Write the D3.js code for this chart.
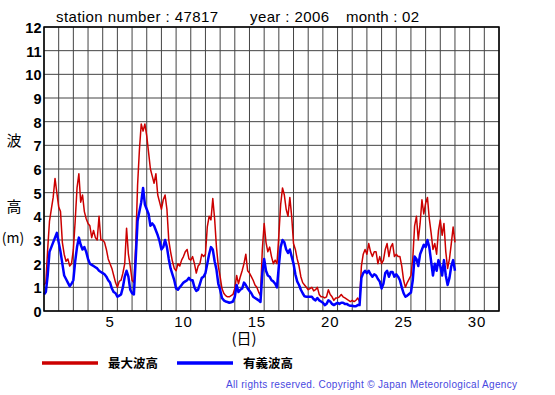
<!DOCTYPE html>
<html>
<head>
<meta charset="utf-8">
<script src="https://cdn.jsdelivr.net/npm/d3@7"></script>
<style>
  body { margin: 0; background: #fff; }
  text { font-family: Arial, "Liberation Sans", sans-serif; }
  .jp { font-family: "Noto Sans CJK JP", sans-serif; }
</style>
</head>
<body>
<script>
// 3-hourly values, 8 per day (day 1 00h .. day 28 21h) + last point
let hmax = [
  1.1, 1.2, 2.6, 3.8, 4.3, 4.8, 5.6, 5.0,
  4.4, 4.2, 2.9, 2.4, 2.1, 2.2, 1.9, 2.0,
  2.6, 3.8, 5.2, 5.8, 4.6, 4.9, 4.2, 3.9,
  3.7, 3.6, 3.1, 3.4, 3.1, 3.0, 4.0, 3.0,
  3.0, 2.9, 2.6, 2.2, 2.0, 1.8, 1.5, 1.2,
  1.0, 1.25, 1.3, 1.6, 2.0, 3.5, 2.4, 1.9,
  1.3, 1.2, 2.8, 5.3, 6.8, 7.9, 7.6, 7.9,
  7.4, 6.7, 6.0, 5.7, 5.4, 5.8, 4.9, 4.6,
  4.3, 4.7, 4.9, 4.3, 3.0, 2.5, 2.1, 1.8,
  1.7, 2.0, 1.9, 2.15, 2.3, 2.5, 2.6, 2.2,
  2.15, 2.3, 2.0, 1.6, 1.9, 2.0, 2.4, 2.3,
  2.4, 3.55, 4.0, 3.85, 4.75, 3.9, 2.7, 1.9,
  1.45, 0.95, 0.75, 0.65, 0.6, 0.6, 0.65, 0.7,
  0.95, 1.5, 1.15, 1.45, 1.7, 2.0, 2.4, 1.7,
  1.6, 1.45, 1.3, 1.1, 1.0, 0.8, 0.65, 2.6,
  3.7, 2.9, 2.5, 2.7, 2.3, 2.0, 2.15, 2.0,
  3.2, 4.5, 5.2, 4.9, 4.3, 4.0, 4.8, 4.0,
  2.85, 2.6, 2.2, 1.9, 1.45, 1.2, 1.1, 1.0,
  0.9, 0.95, 1.0, 0.85, 0.9, 1.0, 0.7, 0.6,
  0.6, 0.55, 0.6, 0.9, 0.7, 0.6, 0.45, 0.55,
  0.55, 0.6, 0.7, 0.6, 0.55, 0.5, 0.45, 0.4,
  0.45, 0.4, 0.45, 0.55, 0.4, 1.9, 2.4, 2.6,
  2.4, 2.85, 2.5, 2.3, 2.5, 2.5, 2.0, 2.3,
  2.0, 2.15, 2.6, 2.85, 2.3, 2.7, 2.85, 2.3,
  2.4, 2.3, 2.3, 1.9, 1.3, 1.0, 1.2, 1.35,
  1.5, 2.2, 3.6, 4.0, 3.0, 3.7, 4.7, 4.1,
  4.55, 4.8, 3.9, 3.3, 2.6, 2.85, 2.4, 3.4,
  3.85, 3.2, 3.7, 2.5, 1.8, 2.2, 2.85, 3.55, 2.9
];
let hsig = [
  0.7, 0.8, 1.5, 2.5, 2.7, 2.9, 3.1, 3.3,
  2.9, 2.5, 2.0, 1.5, 1.35, 1.2, 1.05, 1.15,
  1.3, 2.1, 2.7, 3.1, 2.8, 2.6, 2.7, 2.5,
  2.2, 2.0, 1.95, 1.9, 1.85, 1.8, 1.7, 1.65,
  1.6, 1.55, 1.45, 1.3, 1.2, 0.95, 0.8, 0.75,
  0.6, 0.65, 0.7, 1.0, 1.45, 1.7, 1.45, 0.9,
  0.75, 0.7, 2.2, 3.8, 4.2, 4.6, 5.2, 4.5,
  4.3, 4.1, 3.6, 3.7, 3.6, 3.4, 3.2, 2.95,
  2.6, 2.7, 3.0, 2.7, 2.2, 1.8, 1.55, 1.3,
  0.95, 0.9, 1.0, 1.1, 1.2, 1.25, 1.3, 1.4,
  1.3, 1.3, 1.0, 0.85, 0.9, 1.15, 1.4, 1.45,
  1.6, 2.0, 2.4, 2.7, 2.6, 2.1, 1.75, 1.15,
  0.9, 0.55, 0.45, 0.4, 0.38, 0.35, 0.37, 0.4,
  0.6, 1.1, 0.8, 0.9, 0.95, 1.2, 1.1, 0.95,
  0.85, 0.75, 0.6, 0.55, 0.5, 0.45, 0.38, 1.6,
  2.2, 1.7, 1.5, 1.45, 1.3, 1.25, 1.15, 1.0,
  1.9, 2.7, 3.0, 2.9, 2.6, 2.45, 2.6, 2.3,
  2.0, 1.55, 1.25, 1.1, 0.9, 0.75, 0.62, 0.6,
  0.6, 0.6, 0.6, 0.5, 0.45, 0.55, 0.45, 0.4,
  0.35, 0.25, 0.3, 0.45, 0.4, 0.3, 0.25, 0.3,
  0.35, 0.3, 0.35, 0.35, 0.3, 0.3, 0.25, 0.22,
  0.22, 0.2, 0.2, 0.25, 0.25, 1.4, 1.6, 1.7,
  1.6, 1.7, 1.55, 1.45, 1.55, 1.5, 1.35, 1.25,
  0.95, 1.15, 1.6, 1.7, 1.45, 1.65, 1.65, 1.45,
  1.55, 1.45, 1.3, 1.0, 0.75, 0.6, 0.65, 0.72,
  0.78, 1.3, 2.3, 2.2, 1.9, 2.4, 2.6, 2.8,
  2.7, 3.0, 2.7, 2.1, 1.5, 2.0, 1.7, 2.15,
  1.9, 1.5, 2.15, 1.5, 1.1, 1.4, 1.9, 2.15, 1.7
];
let yTicks = d3.range(0, 13);
let xTickDays = [5, 10, 15, 20, 25, 30];
let seriesNames = ["最大波高", "有義波高"];
let seriesColors = ["#cc0000", "#0000ff"];
let stationNo = "47817", year = "2006", month = "02";

let W = 555, H = 395;
let svg = d3.select("body").append("svg")
            .attr("width", W)
            .attr("height", H);

// plot box
let pL = 44, pR = 499, pT = 27, pB = 311;
let x = d3.scaleLinear().domain([1, 32]).range([pL, pR]);
let y = d3.scaleLinear().domain([0, 12]).range([pB, pT]);

// grid
svg.append("g").selectAll("line")
    .data(d3.range(1, 33))
    .enter().append("line")
    .attr("x1", d => x(d)).attr("x2", d => x(d))
    .attr("y1", pT).attr("y2", pB)
    .attr("stroke", "#444").attr("stroke-width", 1);
svg.append("g").selectAll("line")
    .data(yTicks)
    .enter().append("line")
    .attr("x1", pL).attr("x2", pR)
    .attr("y1", d => y(d)).attr("y2", d => y(d))
    .attr("stroke", "#444").attr("stroke-width", 1);

// series
let t = i => 1 + i / 8;
let line = d3.line().x((d, i) => x(t(i))).y(d => y(d));
svg.append("path").datum(hmax)
    .attr("d", line)
    .attr("fill", "none")
    .attr("stroke", seriesColors[0])
    .attr("stroke-width", 1.5)
    .attr("stroke-linejoin", "round");
svg.append("path").datum(hsig)
    .attr("d", line)
    .attr("fill", "none")
    .attr("stroke", seriesColors[1])
    .attr("stroke-width", 2.5)
    .attr("stroke-linejoin", "round");

svg.append("rect")
    .attr("x", pL).attr("y", pT)
    .attr("width", pR - pL).attr("height", pB - pT)
    .attr("fill", "none").attr("stroke", "#000").attr("stroke-width", 1.5);

// y tick labels
svg.append("g").selectAll("text")
    .data(yTicks)
    .enter().append("text")
    .attr("x", 41.5)
    .attr("y", d => y(d) + 6)
    .attr("text-anchor", "end")
    .attr("font-size", 14.5)
    .attr("font-weight", "bold")
    .text(d => d);

// x tick labels sit in the middle of the day cell
svg.append("g").selectAll("text")
    .data(xTickDays)
    .enter().append("text")
    .attr("x", d => x(d + 0.5))
    .attr("y", 327)
    .attr("text-anchor", "middle")
    .attr("font-size", 15)
    .attr("letter-spacing", 0.8)
    .text(d => d);

// header
let header = [
  {s: "station number : " + stationNo, x: 56, w: 162},
  {s: "year : " + year, x: 250, w: 79},
  {s: "month : " + month, x: 346, w: 73}
];
svg.append("g").selectAll("text")
    .data(header)
    .enter().append("text")
    .attr("x", d => d.x)
    .attr("y", 22)
    .attr("font-size", 15)
    .attr("textLength", d => d.w)
    .attr("lengthAdjust", "spacing")
    .text(d => d.s);

// axis titles
svg.append("text").attr("class", "jp")
    .attr("x", 14).attr("y", 146).attr("text-anchor", "middle")
    .attr("font-size", 15).text("波");
svg.append("text").attr("class", "jp")
    .attr("x", 14).attr("y", 212).attr("text-anchor", "middle")
    .attr("font-size", 15).text("高");
svg.append("text").attr("class", "jp")
    .attr("x", 13).attr("y", 243).attr("text-anchor", "middle")
    .attr("font-size", 14).text("(m)");
svg.append("text").attr("class", "jp")
    .attr("x", 244).attr("y", 344).attr("text-anchor", "middle")
    .attr("font-size", 15).text("(日)");

// legend
let legend = svg.append("g").selectAll("g")
    .data(seriesNames)
    .enter().append("g")
    .attr("transform", (d, i) => `translate(${42 + i * 135},363)`);
legend.append("line")
    .attr("x1", 0).attr("x2", 56)
    .attr("stroke", (d, i) => seriesColors[i])
    .attr("stroke-width", 3.5);
legend.append("text").attr("class", "jp")
    .attr("x", 66).attr("y", 5)
    .attr("font-size", 12.5)
    .attr("font-weight", "bold")
    .text(d => d);

// copyright
svg.append("text")
    .attr("x", 226).attr("y", 388)
    .attr("font-size", 10)
    .attr("fill", "#4848e0")
    .attr("textLength", 291)
    .attr("lengthAdjust", "spacing")
    .text("All rights reserved. Copyright © Japan Meteorological Agency");
</script>
</body>
</html>
